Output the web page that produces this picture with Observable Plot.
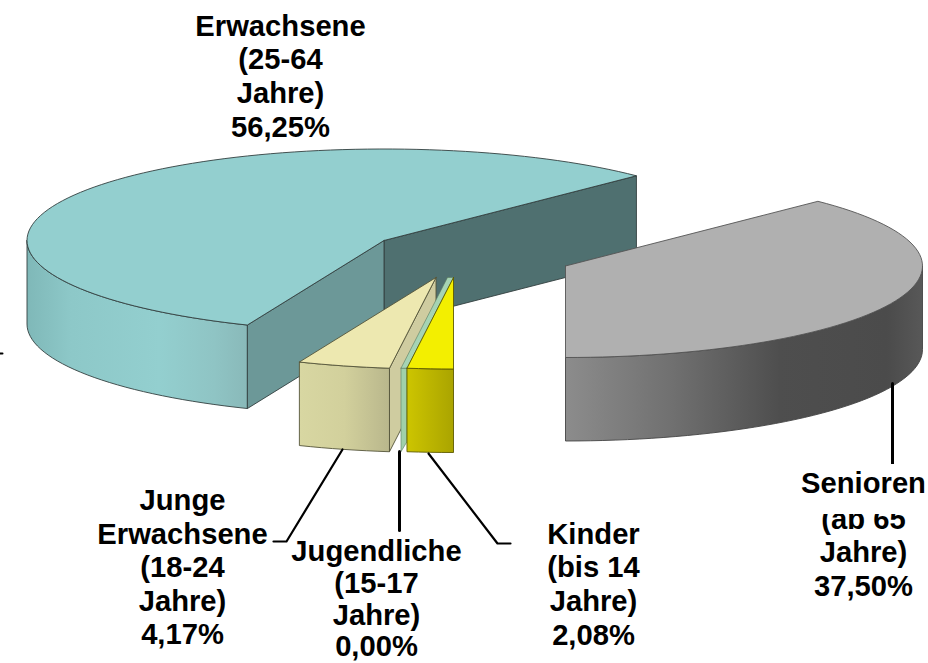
<!DOCTYPE html>
<html lang="de">
<head>
<meta charset="utf-8">
<script src="https://cdn.jsdelivr.net/npm/d3@7"></script>
<script src="https://cdn.jsdelivr.net/npm/@observablehq/plot@0.6"></script>
<style>html,body{margin:0;padding:0;background:#fff}svg{display:block}</style>
</head>
<body>
<div id="chart"></div>
<script>
// Data, in the pie's drawing order round the circle
const categories = ["Erwachsene", "Junge Erwachsene", "Jugendliche", "Kinder", "Senioren"];
const shares = [56.25, 4.17, 0, 2.08, 37.5];
const shareTexts = ["56,25%", "4,17%", "0,00%", "2,08%", "37,50%"];
const ageTexts = ["(25-64\nJahre)", "(18-24\nJahre)", "(15-17\nJahre)", "(bis 14\nJahre)", "(ab 65\nJahre)"];

// Pie layout
const RX = 357, RY = 91.5, DEPTH = 83.5, START = 45;
const apexX = [383.5, 435.5, 447, 453, 565];
const apexY = [240, 277, 277, 277, 265.5];

// Angles come from the shares
let acc = START;
const spans = shares.map((s) => { const a0 = acc; acc += s * 3.6; return [a0, acc]; });
spans[4][1] = START + 360;
const rim = (i, deg, dy = 0) => ({
  x: apexX[i] + RX * Math.cos(deg * Math.PI / 180),
  y: apexY[i] - RY * Math.sin(deg * Math.PI / 180) + dy
});
const apex = (i, dy = 0) => ({x: apexX[i], y: apexY[i] + dy});
const arc = (i, a0, a1, dy = 0) => {
  const n = Math.max(2, Math.ceil(Math.abs(a1 - a0) / 2));
  return d3.range(n + 1).map((k) => rim(i, a0 + (a1 - a0) * k / n, dy));
};
const close = (p) => [...p, p[0]];
const topFace = (i) => close([apex(i), ...arc(i, spans[i][0], spans[i][1])]);
const wall = (i, a0, a1) => close([...arc(i, a0, a1), ...arc(i, a1, a0, DEPTH)]);
const cut = (i, deg) => close([apex(i), rim(i, deg), rim(i, deg, DEPTH), apex(i, DEPTH)]);

const face = (pts, fill, stroke = "#33403f", strokeWidth = 0.9) =>
  Plot.line(pts, {x: "x", y: "y", fill, stroke, strokeWidth, curve: "linear", strokeLinejoin: "round"});

// Gradients for the outer walls
const gradientDefs = () => {
  const defs = d3.create("svg:defs");
  const add = (id, stops) => {
    const g = defs.append("linearGradient").attr("id", id);
    stops.forEach(([o, c]) => g.append("stop").attr("offset", o).attr("stop-color", c));
  };
  add("wallE", [[0, "#7fb8b8"], [0.2, "#8dc8c8"], [0.6, "#93cfcf"], [0.85, "#8fc4c4"], [1, "#89b9b9"]]);
  add("wallS", [[0, "#8c8c8c"], [0.3, "#707070"], [0.6, "#4e4e4e"], [0.9, "#4b4b4b"], [1, "#585858"]]);
  add("wallJ", [[0, "#d8d7a2"], [0.5, "#d2d09c"], [1, "#b9b78c"]]);
  add("wallK", [[0, "#cdc500"], [1, "#aaa400"]]);
  return defs.node();
};

// Jugendliche has 0 %: only a thin strip along its edge
const jDeg = spans[2][0];
const jTop = close([apex(2), rim(2, jDeg), rim(3, jDeg), apex(3)]);
const jWall = close([rim(2, jDeg), rim(3, jDeg), rim(3, jDeg, DEPTH - 10), rim(2, jDeg, DEPTH)]);

// Label layout
const labelText = (i, name) => `${name}\n${ageTexts[i]}\n${shareTexts[i]}`;
const labels = [
  {text: labelText(0, "Erwachsene"), x: 280, y: 75},
  {text: labelText(1, "Junge\nErwachsene"), x: 182, y: 566},
  {text: labelText(3, "Kinder"), x: 593, y: 583},
  {text: `${ageTexts[4]}\n${shareTexts[4]}`, x: 863, y: 551}
];
const bottomLabel = [{text: labelText(2, "Jugendliche"), x: 376, y: 598}];
const labelStyle = {fontSize: 29.2, fontWeight: "bold", fontFamily: "Liberation Sans, Arial, sans-serif", fill: "#000", lineHeight: 1.15, textAnchor: "middle"};

const leaders = [
  {w: 2.2, pts: [{x: 342, y: 449}, {x: 286, y: 541}, {x: 273, y: 541}]},
  {w: 3, pts: [{x: 399, y: 451}, {x: 399, y: 530}]},
  {w: 2.2, pts: [{x: 428, y: 453}, {x: 497, y: 543}, {x: 510, y: 543}]},
  {w: 3, pts: [{x: 892, y: 383}, {x: 892, y: 464}]},
  {w: 2, pts: [{x: 0, y: 353}, {x: 2, y: 353}]}
];

const plot = Plot.plot({
  width: 928,
  height: 663,
  margin: 0,
  x: {axis: null, domain: [0, 928], range: [0, 928]},
  y: {axis: null, domain: [0, 663], range: [0, 663]},
  marks: [
    gradientDefs,
    // Erwachsene
    face(wall(0, 180, spans[0][1]), "url(#wallE)"),
    face(cut(0, spans[0][0]), "#4f7070"),
    face(cut(0, spans[0][1]), "#6c9898"),
    face(topFace(0), "#93cfcf"),
    // Junge Erwachsene
    face(cut(1, spans[1][1]), "#cfcca0", "#55553a"),
    face(wall(1, spans[1][0], spans[1][1]), "url(#wallJ)", "#55553a"),
    face(topFace(1), "#ede8b0", "#55553a"),
    // Jugendliche
    face(jWall, "#a0d0aa", "#5a7a60", 0.6),
    face(jTop, "#a6d4b4", "#5a7a60", 0.6),
    // Kinder
    face(wall(3, spans[3][0], spans[3][1]), "url(#wallK)", "#5e5a00"),
    face(topFace(3), "#f3ef00", "#5e5a00"),
    // Senioren
    face(wall(4, 270, 360), "url(#wallS)", "#444"),
    face(topFace(4), "#b0b0b0", "#555"),
    // Leader lines
    ...leaders.map((l) => Plot.line(l.pts, {x: "x", y: "y", stroke: "#000", strokeWidth: l.w, curve: "linear"})),
    // Labels
    Plot.text(labels, {x: "x", y: "y", text: "text", ...labelStyle}),
    Plot.text(bottomLabel, {x: "x", y: "y", text: "text", ...labelStyle, lineHeight: 1.09}),
    // The Senioren name box hides part of the line below it
    Plot.rect([{x1: 795, x2: 928, y1: 464, y2: 514}], {x1: "x1", x2: "x2", y1: "y1", y2: "y2", fill: "#fff"}),
    Plot.text([{text: "Senioren", x: 863, y: 482}], {x: "x", y: "y", text: "text", ...labelStyle})
  ]
});
document.getElementById("chart").append(plot);
</script>
</body>
</html>
